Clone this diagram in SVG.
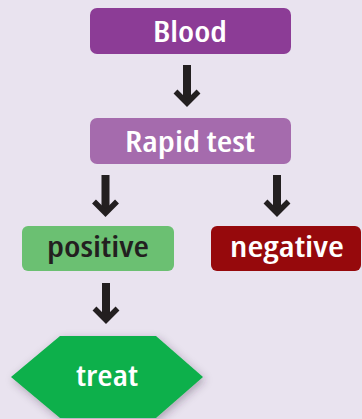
<svg xmlns="http://www.w3.org/2000/svg" width="362" height="419" viewBox="0 0 362 419">
<defs>
<filter id="sh" x="-20%" y="-20%" width="140%" height="150%">
<feGaussianBlur in="SourceAlpha" stdDeviation="4"/>
<feOffset dx="2" dy="3" result="b"/>
<feFlood flood-color="#3a2a45" flood-opacity="0.35"/>
<feComposite in2="b" operator="in"/>
<feMerge><feMergeNode/><feMergeNode in="SourceGraphic"/></feMerge>
</filter>
</defs>
<style>
text{font-family:"Open Sans","Liberation Sans",sans-serif;font-weight:600;font-stretch:condensed;font-size:28px;text-anchor:middle}
.w{fill:#ffffff}
.d{fill:#231f20}
.shaft{fill:#231f20}
.head{fill:none;stroke:#231f20;stroke-width:5.5;stroke-linejoin:miter;stroke-miterlimit:10}
</style>
<rect width="362" height="419" fill="#e9e3ef"/>
<g id="connectors">
<rect class="shaft" x="183" y="65" width="8" height="34"/>
<polyline class="head" points="175.5,91.5 187,103 198.5,91.5"/>
<rect class="shaft" x="101.5" y="175" width="8" height="34"/>
<polyline class="head" points="94,201.5 105.5,213 117,201.5"/>
<rect class="shaft" x="273" y="175" width="8" height="34"/>
<polyline class="head" points="265.5,201.5 277,213 288.5,201.5"/>
<rect class="shaft" x="102" y="283" width="8" height="33"/>
<polyline class="head" points="94.5,308.5 106,320 117.5,308.5"/>
</g>
<g id="blood">
<rect x="90" y="8" width="201" height="46" rx="7" fill="#8c3c96"/>
<text class="w" x="190" y="42" textLength="74" lengthAdjust="spacingAndGlyphs">Blood</text>
</g>
<g id="rapid">
<rect x="90" y="118" width="201" height="46" rx="7" fill="#a56bad"/>
<text class="w" x="190" y="152" textLength="130" lengthAdjust="spacingAndGlyphs">Rapid test</text>
</g>
<g id="positive">
<rect x="22" y="226" width="152" height="45" rx="6" fill="#6bc072"/>
<text class="d" x="98" y="257" textLength="102" lengthAdjust="spacingAndGlyphs">positive</text>
</g>
<g id="negative">
<rect x="211" y="226" width="150" height="45" rx="6" fill="#96090c"/>
<text class="w" x="287" y="257" textLength="114" lengthAdjust="spacingAndGlyphs">negative</text>
</g>
<g id="treat">
<polygon points="11,377 60,336 156,336 203,377 156,418 60,418" fill="#0fb04c" filter="url(#sh)"/>
<text class="w" x="107" y="386" textLength="62" lengthAdjust="spacingAndGlyphs">treat</text>
</g>
</svg>
